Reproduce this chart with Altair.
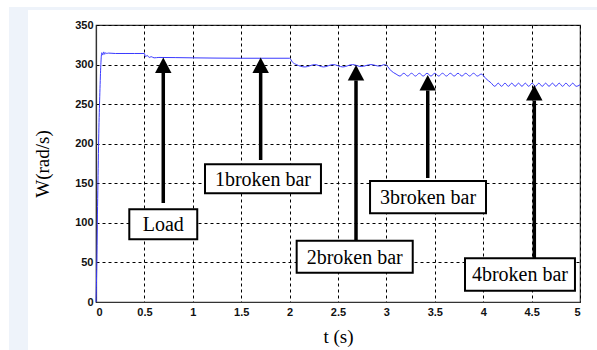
import altair as alt
import pandas as pd

# ---- speed trace W (rad/s) vs t (s) ----
t_vals = [0, 0.005, 0.01, 0.015, 0.02, 0.03, 0.04, 0.05, 0.06, 0.07, 0.08, 0.09, 0.1, 0.11, 0.13,
          0.2, 0.3, 0.4, 0.5,
          0.51, 0.53, 0.55, 0.57, 0.6, 0.65, 1.0, 1.5, 2.0,
          2.03, 2.07, 2.16, 2.26, 2.35, 2.45, 2.55, 2.65, 2.74, 2.84, 2.93, 2.98,
          3.0, 3.05, 3.1, 3.14, 3.18, 3.22, 3.26, 3.30, 3.34, 3.38, 3.42, 3.46, 3.50, 3.54,
          3.58, 3.62, 3.66, 3.70, 3.74, 3.78, 3.82, 3.86, 3.90, 3.94,
          3.98, 4.03, 4.08, 4.12, 4.155, 4.19, 4.225, 4.26, 4.295, 4.33, 4.365, 4.40, 4.435,
          4.47, 4.505, 4.54, 4.575, 4.61, 4.645, 4.68, 4.715, 4.75, 4.785, 4.82, 4.855,
          4.89, 4.925, 4.96, 5.0]
w_vals = [0, 25, 60, 110, 150, 220, 265, 300, 315, 312, 316, 313, 315, 314, 314.5,
          314, 314, 314, 314,
          310, 311.5, 309, 310, 308.5, 309, 308.5, 308, 308,
          303, 300, 297, 300, 297, 300, 297, 300, 297.5, 300, 298, 300,
          299, 292, 288, 285.5, 289, 285.5, 289, 285.5, 289, 285.5, 289, 285.5, 289, 285.5,
          289, 285.5, 289, 285.5, 289, 285.5, 289, 285.5, 289, 285.5,
          288, 282, 277, 272.5, 276.5, 272.5, 276.5, 272.5, 276.5, 272.5, 276.5, 272.5, 276.5,
          272.5, 276.5, 272.5, 276.5, 272.5, 276.5, 272.5, 276.5, 272.5, 276.5, 272.5, 276.5,
          272.5, 276.5, 272.5, 274.5]

x_ticks = [0, 0.5, 1, 1.5, 2, 2.5, 3, 3.5, 4, 4.5, 5]
y_ticks = [0, 50, 100, 150, 200, 250, 300, 350]

# ---- annotations (data units) ----
labels = ["Load", "1broken bar", "2broken bar", "3broken bar", "4broken bar"]
arrow_t = [0.695, 1.701, 2.686, 3.427, 4.528]
arrow_tip = [309, 309, 299.5, 286.8, 274.2]
arrow_bottom = [125, 179.4, 78.3, 156.7, 55.6]
box_x1 = [0.344, 1.126, 2.073, 2.831, 3.812]
box_x2 = [1.046, 2.324, 3.272, 4.029, 4.948]
box_y1 = [117.1, 174.0, 77.5, 152.9, 55.2]
box_y2 = [79.2, 137.4, 37.0, 112.1, 14.3]

head_len = 19.5
head_half = 0.085

line_df = pd.DataFrame({"t": t_vals, "w": w_vals})
ann_df = pd.DataFrame({
    "label": labels, "t": arrow_t, "tip": arrow_tip, "bottom": arrow_bottom,
    "bx1": box_x1, "bx2": box_x2, "by1": box_y1, "by2": box_y2,
})
ann_df["head"] = ann_df["tip"] - head_len
ann_df["ty"] = (ann_df["by1"] + ann_df["by2"]) / 2
ann_df["cx"] = (ann_df["bx1"] + ann_df["bx2"]) / 2

tri_rows = []
for lab, t, tip in zip(labels, arrow_t, arrow_tip):
    base = tip - head_len
    tri_rows += [
        {"label": lab, "x": t - head_half, "y": base, "y2": base},
        {"label": lab, "x": t, "y": base, "y2": tip},
        {"label": lab, "x": t + head_half, "y": base, "y2": base},
    ]
tri_df = pd.DataFrame(tri_rows)

xs = alt.Scale(domain=[0, 5], nice=False, zero=False)
ys = alt.Scale(domain=[0, 350], nice=False, zero=False)

tick_font = "Liberation Sans Narrow, Liberation Sans, Arial, sans-serif"
serif = "Liberation Serif"

x_axis = alt.Axis(values=x_ticks, title="t (s)", labelExpr="'' + datum.value", labelOverlap=False,
                  grid=True, gridDash=[3, 3], gridColor="black", gridOpacity=1, gridWidth=1,
                  ticks=False, labelFont=tick_font, labelFontWeight="bold", labelFontSize=11,
                  labelColor="#111", labelPadding=4, domainColor="#333", domainWidth=1.2,
                  titleFont=serif, titleFontWeight="normal", titleFontSize=19, titleColor="black",
                  titlePadding=10)
y_axis = alt.Axis(values=y_ticks, title="W(rad/s)", labelOverlap=False,
                  grid=True, gridDash=[3, 3], gridColor="black", gridOpacity=1, gridWidth=1,
                  ticks=False, labelFont=tick_font, labelFontWeight="bold", labelFontSize=11,
                  labelColor="#111", labelPadding=3, domainColor="#333", domainWidth=1.2,
                  titleFont=serif, titleFontWeight="normal", titleFontSize=19, titleColor="black",
                  titlePadding=22)


def X(field):
    return alt.X(field, scale=xs, axis=x_axis)


def Y(field, **kw):
    return alt.Y(field, scale=ys, axis=y_axis, **kw)


# decorative page bands (light blue frame of the original figure)
band_left = alt.Chart(pd.DataFrame({"k": [0]})).mark_rect(color="#eef3fa").encode(
    x=alt.value(-87), x2=alt.value(-68), y=alt.value(-18), y2=alt.value(325))
band_top = alt.Chart(pd.DataFrame({"k": [0]})).mark_rect(color="#eef3fa").encode(
    x=alt.value(-87), x2=alt.value(501), y=alt.value(-18), y2=alt.value(-15))

line = alt.Chart(line_df).mark_line(color="#3a3aff", strokeWidth=1, interpolate="monotone").encode(
    x=X("t:Q"), y=Y("w:Q"),
)

shaft = alt.Chart(ann_df).mark_rule(color="black", strokeWidth=3.5).encode(
    x=X("t:Q"), y=Y("bottom:Q"), y2="head:Q",
)

heads = alt.Chart(tri_df).mark_area(color="black", opacity=1).encode(
    x=X("x:Q"), y=Y("y:Q", stack=None), y2="y2:Q", detail="label:N",
)

boxes = alt.Chart(ann_df).mark_rect(fill="white", stroke="black", strokeWidth=2).encode(
    x=X("bx1:Q"), x2="bx2:Q", y=Y("by1:Q"), y2="by2:Q",
)

texts = alt.Chart(ann_df).mark_text(font=serif, fontSize=20, color="black",
                                    align="center", baseline="middle", dy=1).encode(
    x=X("cx:Q"), y=Y("ty:Q"), text="label:N",
)

chart = alt.layer(band_left, band_top, line, shaft, heads, boxes, texts).properties(
    width=484, height=277,
    autosize=alt.AutoSizeParams(type="none"),
    padding={"left": 96, "top": 25, "right": 17, "bottom": 48},
    background="white",
).configure_view(stroke="#333", strokeWidth=1.2)

chart.save("out.html", embed_options={"renderer": "svg", "actions": False})
